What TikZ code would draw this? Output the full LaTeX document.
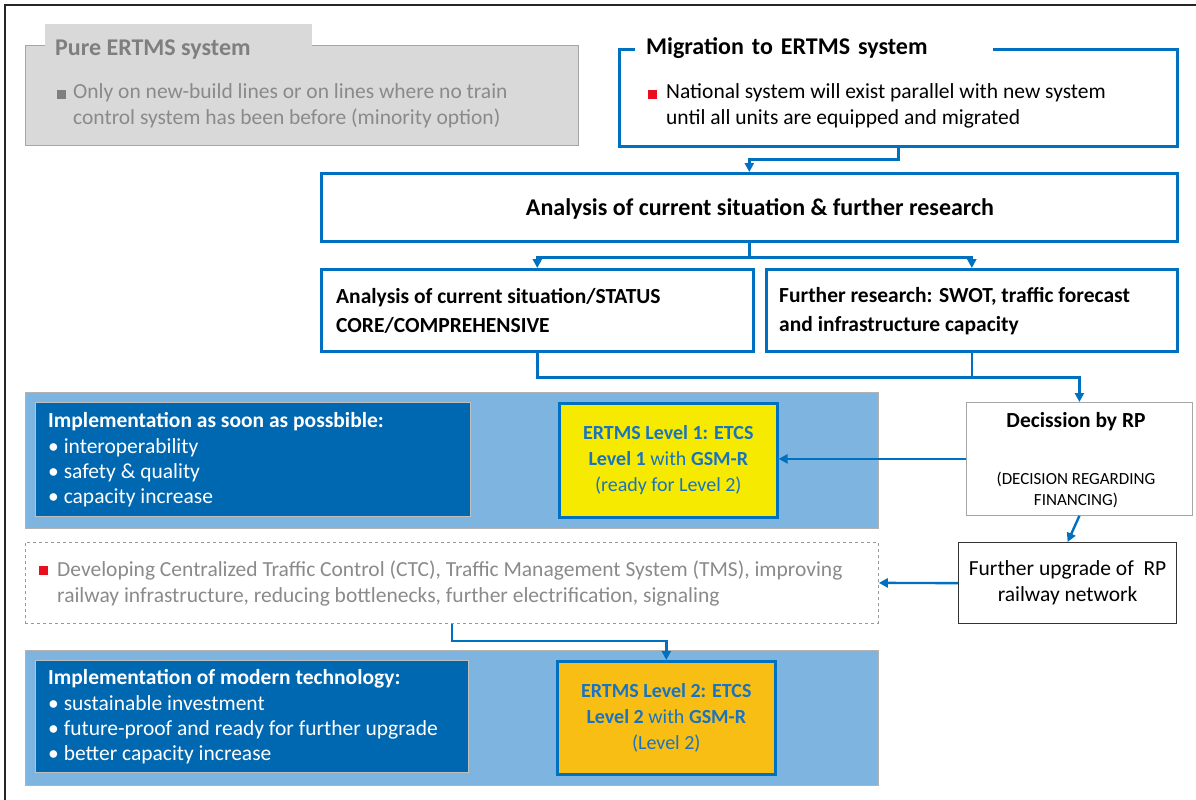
\documentclass[tikz,border=0pt]{standalone}
\usepackage{fontspec}
\setmainfont{Carlito}
\usetikzlibrary{positioning, arrows.meta, calc}
\definecolor{LineBlue}{HTML}{0070C0}
\definecolor{PanelBlue}{HTML}{7DB4E0}
\definecolor{DeepBlue}{HTML}{0067B1}
\definecolor{BoxGray}{HTML}{D9D9D9}
\definecolor{TitleGray}{HTML}{7F7F7F}
\definecolor{TextGray}{HTML}{8A8A8A}
\definecolor{LevelYellow}{HTML}{F6EB00}
\definecolor{LevelOrange}{HTML}{F9BE14}
\definecolor{LevelText}{HTML}{1A73C1}
\definecolor{BulletRed}{HTML}{E8101E}

\begin{document}
\begin{tikzpicture}[
      x=1pt, y=-1pt,
      every node/.style={font=\fontsize{21.5}{26}\selectfont},
      blockbox/.style={draw=LineBlue, line width=2.6pt, anchor=north west, inner sep=0pt},
      panel/.style={fill=PanelBlue, draw=gray!60, line width=0.8pt, anchor=north west, inner sep=0pt},
      deepbox/.style={fill=DeepBlue, draw=gray!50, line width=0.8pt, anchor=north west, inner sep=0pt},
      levelbox/.style={draw=LineBlue, line width=2.6pt, anchor=north west, inner sep=0pt, text=LevelText, align=center, font=\fontsize{20}{26}\selectfont},
      txt/.style={anchor=west, inner sep=0pt, align=left},
      square/.style={minimum size=9pt, inner sep=0pt},
      boldtext/.style={font=\bfseries\fontsize{21.5}{29}\selectfont},
      titletext/.style={font=\bfseries\fontsize{24}{26}\selectfont},
      joint/.style={LineBlue, line width=2.4pt},
      flow/.style={joint, -{Triangle[length=9pt, width=9pt]}}
  ]
    \useasboundingbox (0,0) rectangle (1196,800);
    \draw[black!85, line width=2pt] (1196,5) -- (5,5) -- (5,800);

    % pure system
    \node[anchor=north west, fill=BoxGray, draw=gray!70, line width=0.8pt, minimum width=553, minimum height=100, inner sep=0pt] (purebox) at (25,45) {};
    \node[anchor=north west, fill=BoxGray, minimum width=267, minimum height=23, inner sep=0pt] (puretab) at (45,24) {};
    \node[txt, titletext, text=TitleGray] (puretitle) at (55,50) {Pure ERTMS system};
    \node[square, fill=TitleGray] (puresq) at (61,94) {};
    \node[txt, text=TextGray] (puretext) at (73,106) {Only on new-build lines or on lines where no train\\control system has been before (minority option)};

    % migration
    \node[blockbox, minimum width=558, minimum height=97] (migr) at (618,48) {};
    \node[anchor=west, fill=white, inner xsep=11pt, inner ysep=2pt, text width=336pt, titletext] (migrtitle) at (635,48) {Migration to ERTMS system};
    \node[square, fill=BulletRed] (migrsq) at (652,94) {};
    \node[txt] (migrtext) at (666,106) {National system will exist parallel with new system\\until all units are equipped and migrated};

    % analysis
    \node[blockbox, minimum width=856, minimum height=68] (analysis) at (320,172) {};
    \node[inner sep=0pt, font=\bfseries\fontsize{24}{26}\selectfont] (analysistext) at (760,209) {Analysis of current situation \& further research};
    \node[blockbox, minimum width=432, minimum height=82] (status) at (320,268) {};
    \node[txt, boldtext] (statustext) at (336,311) {Analysis of current situation/STATUS\\CORE/COMPREHENSIVE};
    \node[blockbox, minimum width=411, minimum height=82] (research) at (765,268) {};
    \node[txt, boldtext] (researchtext) at (779,311) {Further research: SWOT, traffic forecast\\and infrastructure capacity};

    % decision
    \node[anchor=north west, draw=gray!70, line width=0.8pt, minimum width=226, minimum height=113, inner sep=0pt] (decision) at (966,402) {};
    \node[inner sep=0pt, font=\bfseries\fontsize{21.5}{26}\selectfont] (decisiontitle) at (1076,422) {Decission by RP};
    \node[inner sep=0pt, align=center, font=\fontsize{17}{21}\selectfont] (decisionnote) at (1076,490) {(DECISION REGARDING\\FINANCING)};

    % level 1
    \node[panel, minimum width=853, minimum height=136] (panelone) at (25,392) {};
    \node[deepbox, minimum width=435, minimum height=114] (deepone) at (35,402) {};
    \node[txt, text=white, font=\fontsize{21.5}{25.3}\selectfont] (deeponetext) at (48,460) {\textbf{Implementation as soon as possbible:}\\• interoperability\\• safety \& quality\\• capacity increase};
    \node[levelbox, fill=LevelYellow, minimum width=218, minimum height=114] (levelone) at (558,402) {\textbf{ERTMS Level 1: ETCS}\\\textbf{Level 1} with \textbf{GSM-R}\\(ready for Level 2)};

    % upgrade and measures
    \node[anchor=north west, draw=black!80, line width=1.2pt, minimum width=218, minimum height=81, inner sep=0pt, align=center] (upgrade) at (958,542) {Further upgrade of~ RP\\railway network};
    \node[anchor=north west, draw=gray!80, dashed, line width=0.8pt, minimum width=853, minimum height=81, inner sep=0pt] (measures) at (25,542) {};
    \node[square, fill=BulletRed] (measuressq) at (43,570) {};
    \node[txt, text=TextGray] (measurestext) at (57,583) {Developing Centralized Traffic Control (CTC), Traffic Management System (TMS), improving\\railway infrastructure, reducing bottlenecks, further electrification, signaling};

    % level 2
    \node[panel, minimum width=853, minimum height=135] (paneltwo) at (25,650) {};
    \node[deepbox, minimum width=433, minimum height=112] (deeptwo) at (35,660) {};
    \node[txt, text=white, font=\fontsize{21.5}{25.3}\selectfont] (deeptwotext) at (48,717) {\textbf{Implementation of modern technology:}\\• sustainable investment\\• future-proof and ready for further upgrade\\• better capacity increase};
    \node[levelbox, fill=LevelOrange, minimum width=218, minimum height=113] (leveltwo) at (556,660) {\textbf{ERTMS Level 2: ETCS}\\\textbf{Level 2} with \textbf{GSM-R}\\(Level 2)};

    % connectors
    \draw[flow] (migr.south) -- ++(0,12) -| (analysis.north);
    \draw[flow] (analysis.south) -- ++(0,15) -| (status.north);
    \draw[flow] (analysis.south) -- ++(0,15) -| (research.north);
    \draw[joint] (research.south) -- ++(0,25);
    \draw[flow] (status.south) -- ++(0,25) -| (decision.north);
    \draw[flow] (decision.west) -- (decision.west -| levelone.east);
    \draw[flow] (decision.south) -- (upgrade.north);
    \draw[flow] (upgrade.west) -- (measures.east);
    \draw[flow] (measures.south) -- ++(0,17) -| (leveltwo.north);
\end{tikzpicture}
\end{document}
